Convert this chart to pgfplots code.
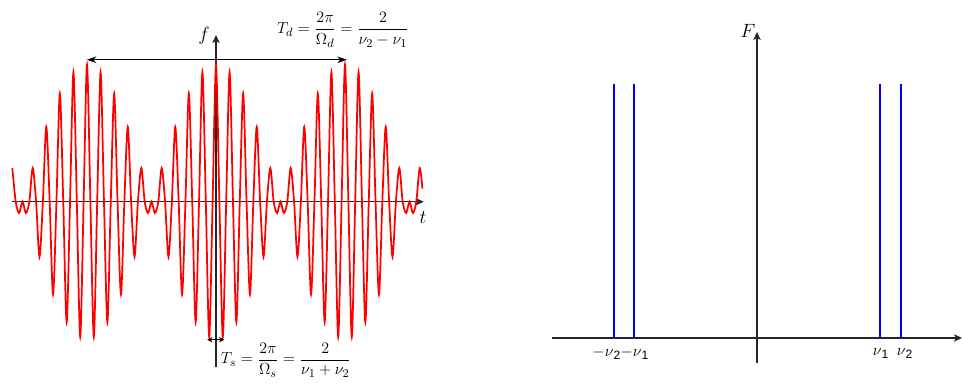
\documentclass[border=0pt]{standalone}
\usepackage{amsmath}
\usepackage[no-math]{fontspec}
\setmainfont{Liberation Serif}
\newfontfamily\sans{Liberation Sans}
\usepackage{pgfplots}
\pgfplotsset{compat=1.18}
\usetikzlibrary{arrows.meta}

% beat signal sampled every quarter period of the carrier
\pgfplotstableread{
k f
-60 0.2455
-59 0
-58 -0.0826
-57 0
-56 -0.0826
-55 0
-54 0.2455
-53 0
-52 -0.4017
-51 0
-50 0.5469
-49 0
-48 -0.6773
-47 0
-46 0.7891
-45 0
-44 -0.8795
-43 0
-42 0.9458
-41 0
-40 -0.9864
-39 0
-38 1
-37 0
-36 -0.9864
-35 0
-34 0.9458
-33 0
-32 -0.8795
-31 0
-30 0.7891
-29 0
-28 -0.6773
-27 0
-26 0.5469
-25 0
-24 -0.4017
-23 0
-22 0.2455
-21 0
-20 -0.0826
-19 0
-18 -0.0826
-17 0
-16 0.2455
-15 0
-14 -0.4017
-13 0
-12 0.5469
-11 0
-10 -0.6773
-9 0
-8 0.7891
-7 0
-6 -0.8795
-5 0
-4 0.9458
-3 0
-2 -0.9864
-1 0
0 1
1 0
2 -0.9864
3 0
4 0.9458
5 0
6 -0.8795
7 0
8 0.7891
9 0
10 -0.6773
11 0
12 0.5469
13 0
14 -0.4017
15 0
16 0.2455
17 0
18 -0.0826
19 0
20 -0.0826
21 0
22 0.2455
23 0
24 -0.4017
25 0
26 0.5469
27 0
28 -0.6773
29 0
30 0.7891
31 0
32 -0.8795
33 0
34 0.9458
35 0
36 -0.9864
37 0
38 1
39 0
40 -0.9864
41 0
42 0.9458
43 0
44 -0.8795
45 0
46 0.7891
47 0
48 -0.6773
49 0
50 0.5469
51 0
52 -0.4017
53 0
54 0.2455
55 0
56 -0.0826
57 0
58 -0.0826
59 0
60 0.2455
60.8 0.0955
}\beat

\tikzset{axarrow/.style={-{Stealth[length=6pt,width=5.5pt,inset=1.5pt]}}}

\begin{document}
\begin{tikzpicture}
\useasboundingbox (0,0) rectangle (722.25pt,-287.25pt);

% time domain
\begin{axis}[
  at={(162pt,-151.3pt)}, anchor=origin,
  x=2.546pt, y=102.75pt,
  xmin=-60.2, xmax=61.2, ymin=-1.207, ymax=1.217,
  axis lines=middle, ticks=none, clip=false,
  axis line style={line width=1.1pt, black!85, axarrow},
  every inner x axis line/.append style={axarrow},
  every inner y axis line/.append style={axarrow},
]
\addplot[red, line width=1.3pt, smooth, no marks] table[x=k, y=f] {\beat};
\draw[line width=1.1pt, {Stealth[length=7pt,width=5pt]}-{Stealth[length=7pt,width=5pt]}]
  (axis cs:-38,1.0365) -- (axis cs:38.5,1.0365);
\draw[line width=0.9pt, {Stealth[length=4pt,width=4pt]}-{Stealth[length=4pt,width=4pt]}]
  (axis cs:-2.6,-1.007) -- (axis cs:2.4,-1.007);
\node[font=\fontsize{14}{17}\selectfont] at (axis cs:-3.5,1.21) {$f$};
\node[font=\fontsize{14}{17}\selectfont] at (axis cs:61.0,-0.113) {$t$};
\node[font=\fontsize{12.5}{15}\selectfont] at (axis cs:37.4,1.253)
  {$T_d=\dfrac{2\pi}{\Omega_d}=\dfrac{2}{\nu_2-\nu_1}$};
\node[font=\fontsize{12.5}{15}\selectfont] at (axis cs:20.6,-1.155)
  {$T_s=\dfrac{2\pi}{\Omega_s}=\dfrac{2}{\nu_1+\nu_2}$};
\end{axis}

% spectrum
\begin{axis}[
  at={(567.75pt,-253.5pt)}, anchor=origin,
  x=15.375pt, y=190.5pt,
  xmin=-10, xmax=10, ymin=-0.098, ymax=1.205,
  axis lines=middle, ticks=none, clip=false,
  axis line style={line width=1.1pt, black!85, axarrow},
  every inner x axis line/.append style={axarrow},
  every inner y axis line/.append style={axarrow},
]
\addplot[ycomb, blue, line width=1.5pt, no marks] coordinates {(-7,1) (-6,1) (6,1) (7,1)};
\node[font=\fontsize{14}{17}\selectfont] at (axis cs:-0.44,1.21) {$F$};
\node[font=\sans\fontsize{13}{16}\selectfont] at (axis cs:-7.33,-0.06) {$-\nu$\textsubscript{2}};
\node[font=\sans\fontsize{13}{16}\selectfont] at (axis cs:-5.97,-0.06) {$-\nu$\textsubscript{1}};
\node[font=\sans\fontsize{13}{16}\selectfont] at (axis cs:6.05,-0.06) {$\nu$\textsubscript{1}};
\node[font=\sans\fontsize{13}{16}\selectfont] at (axis cs:7.22,-0.06) {$\nu$\textsubscript{2}};
\end{axis}
\end{tikzpicture}
\end{document}
